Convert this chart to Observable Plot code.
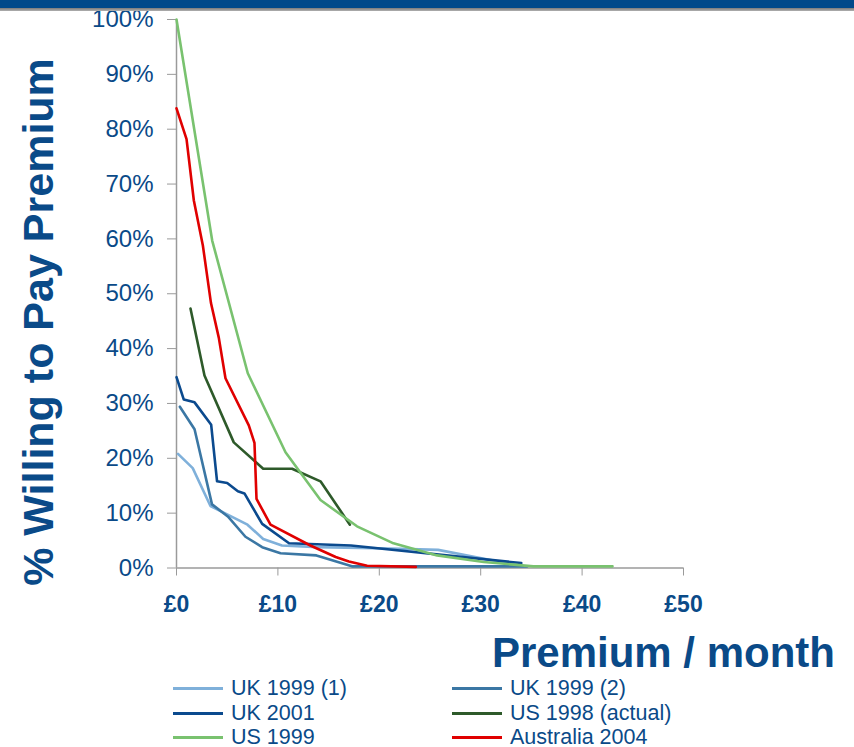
<!DOCTYPE html>
<html>
<head>
<meta charset="utf-8">
<script src="https://cdn.jsdelivr.net/npm/d3@7"></script>
<script src="https://cdn.jsdelivr.net/npm/@observablehq/plot@0.6"></script>
<style>
  html, body { margin: 0; padding: 0; background: #fff; }
  body { width: 854px; height: 747px; position: relative; overflow: hidden; font-family: "Liberation Sans", Arial, sans-serif; }
  #band { position: absolute; left: 0; top: 0; width: 854px; height: 8px; background: #00498a; z-index: 2; }
  #band2 { position: absolute; left: 0; top: 8px; width: 854px; height: 3px; background: linear-gradient(#7a7a7a, #b0b0b0); z-index: 2; }
  #chart { position: absolute; left: 0; top: 0; }
  #legend { position: absolute; left: 0; top: 670px; width: 854px; height: 77px; }
  .item { position: absolute; height: 24px; display: flex; align-items: center; font-size: 21.5px; color: #0a4a88; white-space: nowrap; }
  .swatch { display: inline-block; width: 50px; height: 3px; margin-right: 8px; }
</style>
</head>
<body>
<div id="band"></div>
<div id="band2"></div>
<div id="chart"></div>
<div id="legend"></div>
<script>
// ---- data ----
const seriesNames = ["UK 1999 (1)", "UK 1999 (2)", "UK 2001", "US 1998 (actual)", "US 1999", "Australia 2004"];
const seriesColors = ["#7fb0da", "#3b77a4", "#0b4a8e", "#2e5a2a", "#79c26f", "#e00000"];

const uk1999aX = [0.15, 1.6, 3.35, 7.0, 8.55, 10.4, 13.9, 22.1, 25.8, 34.2];
const uk1999aY = [20.8, 18.2, 11.3, 7.9, 5.3, 4.1, 3.8, 3.5, 3.3, 0.3];

const uk1999bX = [0.33, 1.78, 3.5, 5.06, 6.8, 8.45, 10.26, 13.8, 17.3, 34.6];
const uk1999bY = [29.4, 25.3, 11.6, 9.4, 5.7, 3.8, 2.7, 2.3, 0.3, 0.3];

const uk2001X = [0, 0.72, 1.78, 3.42, 4.0, 5.0, 6.05, 6.7, 8.45, 11.1, 17.2, 34.0];
const uk2001Y = [34.8, 30.7, 30.2, 26.1, 15.8, 15.5, 14.0, 13.6, 8.05, 4.5, 4.1, 0.9];

const us1998X = [1.38, 2.76, 5.65, 8.55, 11.4, 14.2, 17.1];
const us1998Y = [47.3, 35.1, 22.9, 18.1, 18.1, 15.8, 7.9];

const us1999X = [0, 3.52, 7.03, 10.75, 14.2, 17.8, 21.4, 25.7, 30.3, 35.2, 43.0];
const us1999Y = [100, 59.7, 35.5, 21.1, 12.4, 7.6, 4.5, 2.3, 1.1, 0.3, 0.3];

const aus2004X = [0, 0.99, 1.71, 2.6, 3.4, 4.17, 4.83, 7.13, 7.69, 7.89, 9.27, 13.2, 15.7, 17.0, 18.8, 23.6];
const aus2004Y = [83.8, 78.2, 67.0, 58.8, 48.3, 42.0, 34.6, 26.0, 22.8, 12.6, 7.9, 4.1, 2.0, 1.2, 0.4, 0.2];

const xTicks = [0, 10, 20, 30, 40, 50];
const yTicks = [0, 10, 20, 30, 40, 50, 60, 70, 80, 90, 100];

const xTitle = "Premium / month";
const yTitle = "% Willing to Pay Premium";

// ---- build table ----
const allX = [uk1999aX, uk1999bX, uk2001X, us1998X, us1999X, aus2004X];
const allY = [uk1999aY, uk1999bY, uk2001Y, us1998Y, us1999Y, aus2004Y];
const rows = [];
seriesNames.forEach((name, i) => {
  allX[i].forEach((x, j) => rows.push({series: name, x, y: allY[i][j]}));
});

const textColor = "#0a4a88";
const axisGrey = "#9a9a9a";

const chart = Plot.plot({
  width: 854,
  height: 670,
  marginLeft: 176,
  marginRight: 171,
  marginTop: 19,
  marginBottom: 102.5,
  style: {fontFamily: "'Liberation Sans', Arial, sans-serif", background: "transparent", overflow: "visible"},
  x: {domain: [0, 50]},
  y: {domain: [0, 100]},
  color: {domain: seriesNames, range: seriesColors},
  marks: [
    Plot.axisY(yTicks, {
      tickSize: 9, tickPadding: 14, tickFormat: d => d + "%",
      stroke: axisGrey, fill: textColor, fontSize: 24, label: null
    }),
    Plot.axisX(xTicks, {
      tickSize: 8, tickPadding: 20, tickFormat: d => "£" + d,
      stroke: axisGrey, fill: textColor, fontSize: 23, fontWeight: "bold", label: null
    }),
    Plot.ruleX([0], {stroke: axisGrey, strokeWidth: 1.5}),
    Plot.ruleY([0], {stroke: axisGrey, strokeWidth: 1.5}),
    Plot.line(rows, {x: "x", y: "y", z: "series", stroke: "series", strokeWidth: 2.6, strokeLinejoin: "round"})
  ]
});

const svg = d3.select(chart);
svg.append("text")
  .attr("x", 835).attr("y", 667)
  .attr("text-anchor", "end")
  .attr("fill", textColor)
  .attr("font-size", 42).attr("font-weight", "bold")
  .attr("font-family", "'Liberation Sans', Arial, sans-serif")
  .text(xTitle);
svg.append("text")
  .attr("transform", "translate(53,322) rotate(-90)")
  .attr("text-anchor", "middle")
  .attr("fill", textColor)
  .attr("font-size", 43).attr("font-weight", "bold")
  .attr("font-family", "'Liberation Sans', Arial, sans-serif")
  .text(yTitle);

document.getElementById("chart").appendChild(chart);

// ---- legend ----
const legend = document.getElementById("legend");
const colLeft = [173, 452];
const rowTop = [6, 31, 55];
seriesNames.forEach((name, i) => {
  const div = document.createElement("div");
  div.className = "item";
  div.style.left = colLeft[i % 2] + "px";
  div.style.top = rowTop[Math.floor(i / 2)] + "px";
  const sw = document.createElement("span");
  sw.className = "swatch";
  sw.style.background = seriesColors[i];
  div.appendChild(sw);
  div.appendChild(document.createTextNode(name));
  legend.appendChild(div);
});
</script>
</body>
</html>
